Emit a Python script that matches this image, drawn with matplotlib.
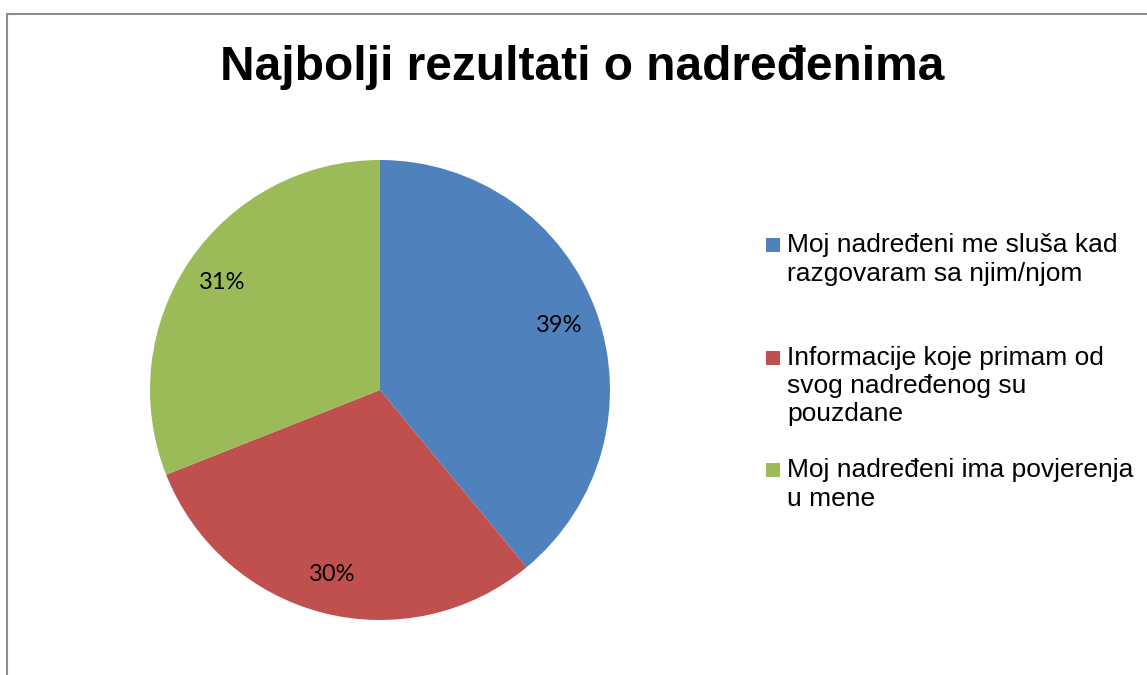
import matplotlib.pyplot as plt
from matplotlib.patches import Rectangle

title = 'Najbolji rezultati o nadređenima'
labels = ['Moj nadređeni me sluša kad\nrazgovaram sa njim/njom',
          'Informacije koje primam od\nsvog nadređenog su\npouzdane',
          'Moj nadređeni ima povjerenja\nu mene']
values = [39, 30, 31]
colors = ['#4F81BD', '#C0504D', '#9BBB59']

W, H = 1147, 675
fig = plt.figure(figsize=(W / 100, H / 100), dpi=100)

# chart frame (top-left corner visible, rest runs off the image)
fig.patches.append(Rectangle((7.5 / W, -0.1), 1.2, (H - 14) / H + 0.1,
                             transform=fig.transFigure, fill=False,
                             edgecolor='#8c8c8c', linewidth=1.5))

fig.text(582 / W, 1 - 80 / H, title, ha='center', va='baseline',
         fontsize=34.5, fontweight='bold', family='Liberation Sans')

# pie: centre (380, 390), radius 230 px
ax = fig.add_axes([150 / W, (H - 620) / H, 460 / W, 460 / H])
wedges, texts, autotexts = ax.pie(values, colors=colors, startangle=90,
                                  counterclock=False, radius=1,
                                  autopct='%d%%', pctdistance=0.83,
                                  wedgeprops=dict(linewidth=0))
for t in autotexts:
    t.set_fontsize(17)
    t.set_family('Lato')
    t.set_color('black')
ax.set_xlim(-1, 1)
ax.set_ylim(-1, 1)
ax.set_aspect('equal')
ax.axis('off')

# legend, entries top-aligned with equal slots, one text per line
for i, (lab, col) in enumerate(zip(labels, colors)):
    base = 252 + i * 112.5
    fig.patches.append(Rectangle((766 / W, 1 - base / H), 14 / W, 14 / H,
                                 transform=fig.transFigure,
                                 facecolor=col, edgecolor='none'))
    for j, line in enumerate(lab.split('\n')):
        fig.text(787 / W, 1 - (base + j * 28.5) / H, line, ha='left',
                 va='baseline', fontsize=19, family='Liberation Sans')

fig.savefig('out.png', dpi=100)
